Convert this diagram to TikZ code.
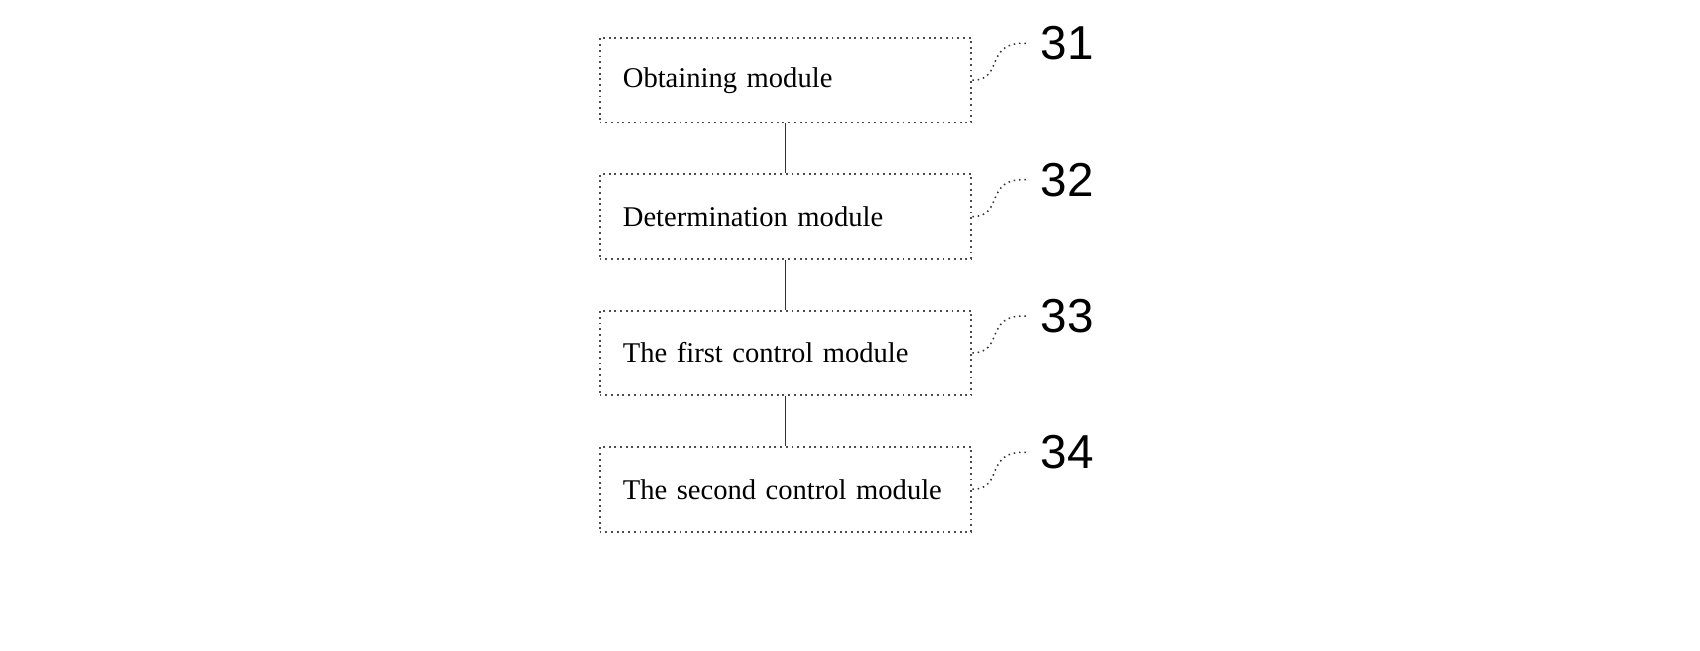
\documentclass[tikz,border=0pt]{standalone}
\usepackage{fontspec}
\setmainfont{Liberation Serif}
\newfontfamily\numfont{Liberation Sans}
\usetikzlibrary{positioning}
\tikzstyle{modbox} = [draw=black!70, line width=0.5pt, densely dotted, minimum width=3.43cm, minimum height=0.78cm, text width=3.0cm, align=left, font=\fontsize{7.5}{9}\selectfont]
\tikzstyle{lien} = [draw=black!80, line width=0.4pt]
\tikzstyle{repere} = [font=\numfont\fontsize{12.5}{14}\selectfont]
\begin{document}
\begin{tikzpicture}[thick]
	\useasboundingbox (0,0) rectangle (15.68,6.0);

	\node[modbox] (M1) at (7.245,5.26) {Obtaining module};
	\node[modbox, below=0.46cm of M1] (M2) {Determination module};
	\node[modbox, below=0.46cm of M2] (M3) {The first control module};
	\node[modbox, below=0.46cm of M3] (M4) {The second control module};

	\draw[lien] (M1) -- (M2);
	\draw[lien] (M2) -- (M3);
	\draw[lien] (M3) -- (M4);

	% reference numerals
	\foreach \m/\n in {M1/31, M2/32, M3/33, M4/34} {
		\node[repere, anchor=west] (R\n) at ([xshift=0.5cm, yshift=0.34cm]\m.east) {\n};
		\draw[lien, densely dotted] (\m.east) .. controls ([xshift=0.3cm]\m.east) and ([xshift=0.1cm, yshift=0.36cm]\m.east) .. (R\n.west);
	}
\end{tikzpicture}
\end{document}
